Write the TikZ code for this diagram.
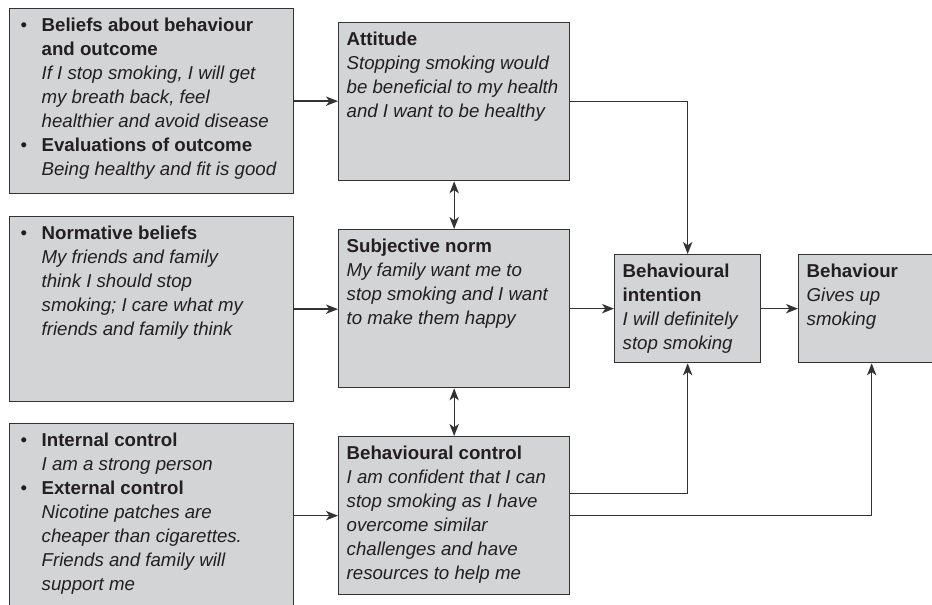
\documentclass[tikz,border=0pt]{standalone}
\usepackage{fontspec}
\setmainfont{Liberation Sans}
\usepackage{tikz}
\usetikzlibrary{arrows.meta, positioning, calc}
\usepackage{xcolor}
\definecolor{boxfill}{HTML}{D3D4D6}
\definecolor{boxline}{HTML}{333333}
\definecolor{inkcolor}{HTML}{231F20}
% text of a panel, top aligned; width and height in px
\newcommand{\paneltext}[3]{\parbox[c][\dimexpr #2pt*3/4-9pt\relax][t]{\dimexpr #1pt*3/4-12pt\relax}{#3}}
\newcommand{\bulletlist}[1]{\begin{tabular}[t]{@{\hspace{2.25pt}}p{15.75pt}@{}l@{}}#1\end{tabular}}

\begin{document}
\begin{tikzpicture}[
    x=0.75pt, y=-0.75pt,
    panel/.style={draw=boxline, fill=boxfill, line width=1pt, anchor=north west, inner xsep=6pt, inner ysep=4.5pt, text=inkcolor, font=\fontsize{14}{18}\selectfont},
    arrow/.style={-{Stealth[length=9pt, width=7pt, inset=2.5pt]}, line width=1pt, draw=boxline},
    dblarrow/.style={{Stealth[length=9pt, width=7pt, inset=2.5pt]}-{Stealth[length=9pt, width=7pt, inset=2.5pt]}, line width=1pt, draw=boxline},
]
\useasboundingbox (0,0) rectangle (932,605);
\clip (0,0) rectangle (932,605);

% Beliefs
\node[panel] (beliefs) at (9,8) {\paneltext{284}{185}{\bulletlist{
    \textbullet & \textbf{Beliefs about behaviour}\\
    & \textbf{and outcome}\\
    & \textit{If I stop smoking, I will get}\\
    & \textit{my breath back, feel}\\
    & \textit{healthier and avoid disease}\\
    \textbullet & \textbf{Evaluations of outcome}\\
    & \textit{Being healthy and fit is good}}}};
\node[panel] (normative) at (9,216) {\paneltext{284}{185}{\bulletlist{
    \textbullet & \textbf{Normative beliefs}\\
    & \textit{My friends and family}\\
    & \textit{think I should stop}\\
    & \textit{smoking; I care what my}\\
    & \textit{friends and family think}}}};
\node[panel] (control) at (9,423) {\paneltext{284}{185}{\bulletlist{
    \textbullet & \textbf{Internal control}\\
    & \textit{I am a strong person}\\
    \textbullet & \textbf{External control}\\
    & \textit{Nicotine patches are}\\
    & \textit{cheaper than cigarettes.}\\
    & \textit{Friends and family will}\\
    & \textit{support me}}}};

% Attitude, norm, control
\node[panel] (attitude) at (338,22) {\paneltext{231}{158}{\strut\textbf{Attitude}\\
    \textit{Stopping smoking would}\\
    \textit{be beneficial to my health}\\
    \textit{and I want to be healthy}}};
\node[panel] (norm) at (338,229) {\paneltext{231}{158}{\strut\textbf{Subjective norm}\\
    \textit{My family want me to}\\
    \textit{stop smoking and I want}\\
    \textit{to make them happy}}};
\node[panel] (pbc) at (338,436) {\paneltext{231}{158}{\strut\textbf{Behavioural control}\\
    \textit{I am confident that I can}\\
    \textit{stop smoking as I have}\\
    \textit{overcome similar}\\
    \textit{challenges and have}\\
    \textit{resources to help me}}};

% Intention and behaviour
\node[panel] (intention) at (614,254) {\paneltext{146}{108}{\strut\textbf{Behavioural}\\
    \textbf{intention}\\
    \textit{I will definitely}\\
    \textit{stop smoking}}};
\node[panel] (behaviour) at (798,254) {\paneltext{146}{108}{\strut\textbf{Behaviour}\\
    \textit{Gives up}\\
    \textit{smoking}}};

% Arrows
\draw[arrow] (beliefs.east) -- (beliefs.east -| attitude.west);
\draw[arrow] (normative.east) -- (normative.east -| norm.west);
\draw[arrow] (control.east |- pbc.west) -- (pbc.west);
\draw[dblarrow] (attitude.south) -- (norm.north);
\draw[dblarrow] (norm.south) -- (pbc.north);
\draw[arrow] (attitude.east) -| (intention.north);
\draw[arrow] (norm.east) -- (norm.east -| intention.west);
\draw[arrow] ([yshift=16.5pt]pbc.east) -| (intention.south);
\draw[arrow] (intention.east) -- (intention.east -| behaviour.west);
\draw[arrow] (pbc.east) -| (behaviour.south);

\end{tikzpicture}
\end{document}
